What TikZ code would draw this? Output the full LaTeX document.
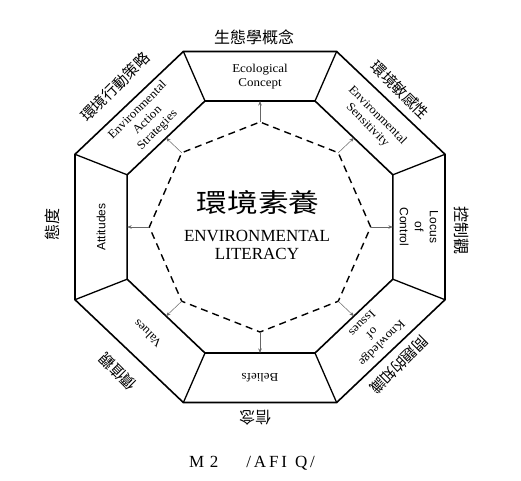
\documentclass[tikz,border=0pt]{standalone}
\usepackage{fontspec}
\usepackage{graphicx}
\setmainfont{Liberation Serif}
\newfontfamily\cjk{Noto Sans CJK TC}
\newfontfamily\cjkwide[FakeStretch=1.18]{Noto Sans CJK TC}
\newfontfamily\enser[FakeStretch=1.08]{Liberation Serif}
\newfontfamily\ensans{Liberation Sans}
\usetikzlibrary{arrows.meta}
\begin{document}
\begin{tikzpicture}[x=1pt,y=1pt,
  oct/.style={line width=1.6pt, line join=miter},
  spoke/.style={line width=1.3pt},
  dashoct/.style={line width=1.4pt, dash pattern=on 7pt off 5pt},
  ptr/.style={line width=0.5pt, black!60, -{Stealth[length=4.5pt,width=3.5pt]}},
  ptxt/.style={font=\enser\fontsize{12}{14}\selectfont, align=center, inner sep=0pt},
  psans/.style={font=\ensans\fontsize{12}{15}\selectfont, align=center, inner sep=0pt},
  zh/.style={font=\cjk\fontsize{16}{18}\selectfont, inner sep=0pt},
  zhd/.style={font=\cjk\fontsize{15}{17}\selectfont, inner sep=0pt},
]
\useasboundingbox (0,0) rectangle (521,480);
\begin{scope}[shift={(260,253)}, xscale=1.054]
  \foreach \k in {1,...,8} {
    \coordinate (o\k) at ({22.5+45*(\k-1)}:190);
    \coordinate (i\k) at ({22.5+45*(\k-1)}:136.4);
    \coordinate (d\k) at ({45*(\k-1)}:105);
    \coordinate (m\k) at ({45*(\k-1)}:126);
    \coordinate (t\k) at ({45*(\k-1)}:150.75);
  }
\end{scope}
% octagons
\draw[oct] (o1)--(o2)--(o3)--(o4)--(o5)--(o6)--(o7)--(o8)--cycle;
\draw[oct] (i1)--(i2)--(i3)--(i4)--(i5)--(i6)--(i7)--(i8)--cycle;
\foreach \k in {1,...,8} { \draw[spoke] (o\k)--(i\k); }
% dashed inner octagon and pointers
\draw[dashoct] (d1)--(d2)--(d3)--(d4)--(d5)--(d6)--(d7)--(d8)--cycle;
\foreach \k in {1,...,8} { \draw[ptr] (d\k)--(m\k); }
% panel texts
\node[ptxt, rotate=0]    (pEco) at (t3) {Ecological\\Concept};
\node[ptxt, rotate=-45]  (pSen) at (t2) {Environmental\\Sensitivity};
\node[psans, rotate=-90] (pLoc) at (t1) {Locus\\of\\Control};
\node[ptxt, rotate=-135] (pKno) at (t8) {Knowledge\\of\\Issues};
\node[ptxt, rotate=180]  (pBel) at (t7) {Beliefs};
\node[ptxt, rotate=135]  (pVal) at (t6) {Values};
\node[psans, rotate=90]  (pAtt) at (t5) {Attitudes};
\node[ptxt, rotate=45]   (pAct) at (t4) {Environmental\\Action\\Strategies};
% outer Chinese labels
\node[zh, rotate=0]     (zEco) at (254,443) {生態學概念};
\node[zhd, rotate=-45]  (zSen) at (400,390) {環境敏感性};
\node[zh, rotate=-90]   (zLoc) at (462,250) {控制觀};
\node[zhd, rotate=-135] (zKno) at (399,115) {問題的知識};
\node[zh, rotate=180]   (zBel) at (255,62)  {信念};
\node[zhd, rotate=135]  (zVal) at (118,108) {價值觀};
\node[zh, rotate=90]    (zAtt) at (52,256)  {態度};
\node[zhd, rotate=45]   (zAct) at (115,393) {環境行動策略};
% centre
\node[font=\cjkwide\fontsize{26}{28}\selectfont, inner sep=0pt] (cZh) at (258,277) {環境素養};
\node[font=\fontsize{17}{18}\selectfont, align=center, inner sep=0pt] (cEn) at (257,235) {ENVIRONMENTAL\\LITERACY};
% caption
\node[font=\fontsize{17}{18}\selectfont, inner sep=0pt] (cap) at (252,17) {M\,\,2\hspace{28pt}/\,A\,F\,I\hspace{8pt}Q\,/};
\end{tikzpicture}
\end{document}
